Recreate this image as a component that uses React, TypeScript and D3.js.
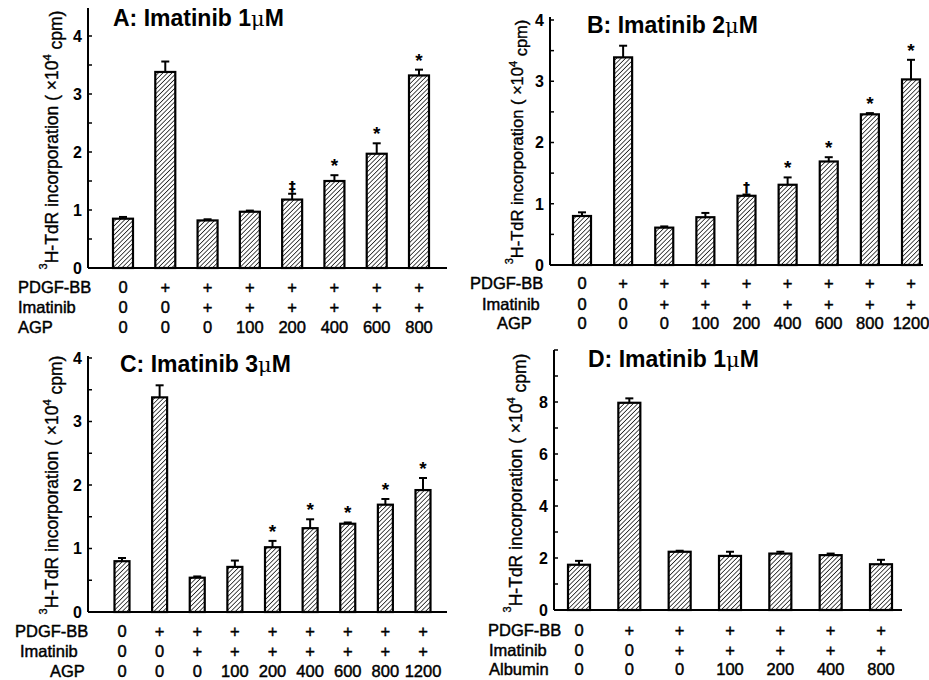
import React from 'react';
import * as d3 from 'd3';

// bar heights (x10^4 cpm) and SEM
const aMeans = [0.85, 3.38, 0.82, 0.97, 1.18, 1.5, 1.97, 3.32];
const aErrs = [0.03, 0.18, 0.02, 0.02, 0.1, 0.1, 0.18, 0.1];
const aMarks = ['', '', '', '', '‡', '*', '*', '*'];
const aPdgf = ['0', '+', '+', '+', '+', '+', '+', '+'];
const aImatinib = ['0', '0', '+', '+', '+', '+', '+', '+'];
const aAgp = ['0', '0', '0', '100', '200', '400', '600', '800'];

const bMeans = [0.8, 3.39, 0.61, 0.78, 1.13, 1.31, 1.69, 2.46, 3.03];
const bErrs = [0.06, 0.19, 0.02, 0.07, 0.02, 0.12, 0.07, 0.02, 0.32];
const bMarks = ['', '', '', '', '†', '*', '*', '*', '*'];
const bPdgf = ['0', '+', '+', '+', '+', '+', '+', '+', '+'];
const bImatinib = ['0', '0', '+', '+', '+', '+', '+', '+', '+'];
const bAgp = ['0', '0', '0', '100', '200', '400', '600', '800', '1200'];

const cMeans = [0.8, 3.38, 0.54, 0.71, 1.02, 1.32, 1.39, 1.69, 1.92];
const cErrs = [0.05, 0.19, 0.02, 0.1, 0.1, 0.14, 0.02, 0.09, 0.19];
const cMarks = ['', '', '', '', '*', '*', '*', '*', '*'];
const cPdgf = bPdgf;
const cImatinib = bImatinib;
const cAgp = bAgp;

const dMeans = [1.74, 7.97, 2.24, 2.08, 2.17, 2.11, 1.76];
const dErrs = [0.15, 0.17, 0.04, 0.16, 0.07, 0.06, 0.17];
const dMarks = ['', '', '', '', '', '', ''];
const dPdgf = ['0', '+', '+', '+', '+', '+', '+'];
const dImatinib = ['0', '0', '+', '+', '+', '+', '+'];
const dAlbumin = ['0', '0', '0', '100', '200', '400', '800'];

const rowNames = ['PDGF-BB', 'Imatinib'];

const font = '"Liberation Sans", Arial, sans-serif';

function Panel(props: any) {
  const { cfg } = props;
  const n = cfg.means.length;
  const x = d3
    .scalePoint<number>()
    .domain(d3.range(n))
    .range([cfg.first, cfg.last]);
  const y = d3.scaleLinear().domain([0, cfg.yMax]).range([cfg.y0, cfg.yTop]);
  const ticks = d3.range(0, cfg.yMax + 1e-9, cfg.minorStep);
  const labels = d3.range(0, cfg.labelMax + 1e-9, cfg.labelStep);
  const rows = [cfg.pdgf, cfg.imatinib, cfg.third];
  const rowLabels = [...rowNames, cfg.thirdName];
  const hw = cfg.barW / 2;
  const ink = { stroke: '#000', strokeWidth: 0.45 };

  return (
    <g fontFamily={font} fill="#000">
      {/* title */}
      <text x={cfg.titleX} y={cfg.titleY} fontSize={23} fontWeight="bold">
        {cfg.title}
        <tspan fontFamily="'DejaVu Serif', serif" fontWeight="normal" fontSize={21}>μ</tspan>M
      </text>

      {/* axes */}
      <line x1={cfg.axisX} x2={cfg.axisX} y1={cfg.axisTop} y2={cfg.y0} stroke="#000" strokeWidth={2} />
      <line x1={cfg.axisX} x2={cfg.axisEnd} y1={cfg.y0} y2={cfg.y0} stroke="#000" strokeWidth={2} />
      {ticks.map((t: number, i: number) => (
        <line key={i} x1={cfg.axisX} x2={cfg.axisX + 4} y1={y(t)} y2={y(t)} stroke="#000" strokeWidth={1.5} />
      ))}
      {labels.map((t: number, i: number) => (
        <text key={i} x={cfg.axisX - 6} y={y(t)} dy="0.36em" textAnchor="end" fontSize={16} fontWeight="bold">
          {d3.format('d')(t)}
        </text>
      ))}
      <text
        transform={`translate(${cfg.labX},${cfg.labY}) rotate(-90)`}
        textAnchor="middle"
        fontSize={cfg.labSize}
        dy="0.35em"
        stroke="#000"
        strokeWidth={0.35}
      >
        <tspan fontSize={11} dy="-0.6em">3</tspan>
        <tspan dy="0.6em">H-TdR incorporation ( ×10</tspan>
        <tspan fontSize={11} dy="-0.6em">4</tspan>
        <tspan dy="0.6em"> cpm)</tspan>
      </text>

      {/* bars with upward SEM */}
      {cfg.means.map((m: number, i: number) => {
        const cx = x(i) as number;
        const top = y(m);
        const et = y(m + cfg.errs[i]);
        return (
          <g key={i}>
            <rect
              x={cx - hw}
              y={top}
              width={cfg.barW}
              height={cfg.y0 - top}
              fill="url(#hatch)"
              stroke="#000"
              strokeWidth={2.2}
            />
            <line x1={cx} x2={cx} y1={top} y2={et} stroke="#000" strokeWidth={2} />
            <line x1={cx - 4} x2={cx + 4} y1={et} y2={et} stroke="#000" strokeWidth={2} />
            {cfg.marks[i] && (
              <text
                x={cx}
                y={et - 3}
                textAnchor="middle"
                fontSize={cfg.marks[i] === '*' ? 19 : 14}
                fontWeight="bold"
                fontFamily={cfg.marks[i] === '*' ? font : "'DejaVu Sans', sans-serif"}
                fill="#000"
              >
                {cfg.marks[i]}
              </text>
            )}
          </g>
        );
      })}

      {/* treatment rows */}
      {rows.map((vals: string[], r: number) => (
        <g key={r} fontSize={16.5} {...ink}>
          <text x={cfg.rowX[r]} y={cfg.rowY[r]}>
            {rowLabels[r]}
          </text>
          {vals.map((v: string, i: number) => (
            <text key={i} x={x(i)} y={cfg.rowY[r]} textAnchor="middle">
              {v}
            </text>
          ))}
        </g>
      ))}
    </g>
  );
}

const panels = [
  {
    title: 'A: Imatinib 1', titleX: 113, titleY: 26,
    means: aMeans, errs: aErrs, marks: aMarks,
    pdgf: aPdgf, imatinib: aImatinib, third: aAgp, thirdName: 'AGP',
    first: 123, last: 419, barW: 20,
    axisX: 88, axisEnd: 447, axisTop: 8, y0: 268, yTop: 36, yMax: 4,
    minorStep: 0.5, labelStep: 1, labelMax: 4,
    labX: 54, labY: 140, labSize: 17.5,
    rowX: [18, 18, 18], rowY: [293, 313, 333],
  },
  {
    title: 'B: Imatinib 2', titleX: 587, titleY: 33,
    means: bMeans, errs: bErrs, marks: bMarks,
    pdgf: bPdgf, imatinib: bImatinib, third: bAgp, thirdName: 'AGP',
    first: 582, last: 911, barW: 18,
    axisX: 550, axisEnd: 923, axisTop: 17, y0: 265, yTop: 20, yMax: 4,
    minorStep: 0.5, labelStep: 1, labelMax: 4,
    labX: 520, labY: 142, labSize: 16.5,
    rowX: [470, 482, 497], rowY: [289, 310, 329],
  },
  {
    title: 'C: Imatinib 3', titleX: 120, titleY: 372,
    means: cMeans, errs: cErrs, marks: cMarks,
    pdgf: cPdgf, imatinib: cImatinib, third: cAgp, thirdName: 'AGP',
    first: 122, last: 423, barW: 15,
    axisX: 88, axisEnd: 447, axisTop: 356, y0: 612, yTop: 358, yMax: 4,
    minorStep: 0.5, labelStep: 1, labelMax: 4,
    labX: 54, labY: 485, labSize: 17.5,
    rowX: [15, 20, 50], rowY: [637, 657, 677],
  },
  {
    title: 'D: Imatinib 1', titleX: 588, titleY: 367,
    means: dMeans, errs: dErrs, marks: dMarks,
    pdgf: dPdgf, imatinib: dImatinib, third: dAlbumin, thirdName: 'Albumin',
    first: 579, last: 881, barW: 22,
    axisX: 554, axisEnd: 902, axisTop: 350, y0: 610, yTop: 350, yMax: 10,
    minorStep: 1, labelStep: 2, labelMax: 8,
    labX: 518, labY: 483, labSize: 17.5,
    rowX: [488, 489, 489], rowY: [636, 656, 675],
  },
];

export default function App() {
  return (
    <svg width={929} height={680} style={{ position: 'absolute', left: 0, top: 0, background: '#fff' }}>
      <defs>
        <pattern id="hatch" patternUnits="userSpaceOnUse" width={3.2} height={3.2} patternTransform="rotate(45)">
          <rect width={3.2} height={3.2} fill="#fff" />
          <line x1={0} y1={0} x2={0} y2={3.2} stroke="#222" strokeWidth={1.6} />
        </pattern>
      </defs>
      {panels.map((p, i) => (
        <Panel key={i} cfg={p} />
      ))}
    </svg>
  );
}
